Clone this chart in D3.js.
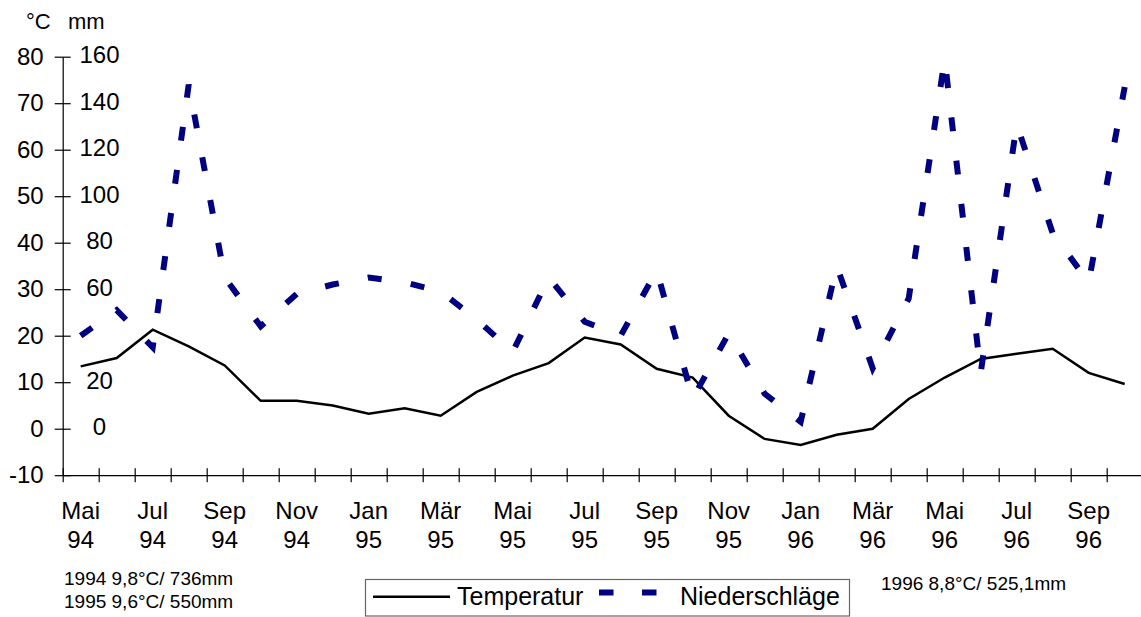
<!DOCTYPE html>
<html>
<head>
<meta charset="utf-8">
<script src="https://cdn.jsdelivr.net/npm/d3@7"></script>
<style>
  body { margin: 0; background: #fff; }
  text { font-family: Arial, "Liberation Sans", sans-serif; fill: #000; }
</style>
</head>
<body>
<div id="chart"></div>
<script>
// months shown on the x axis (every second one gets a label)
var months = ['Mai 94', 'Jun 94', 'Jul 94', 'Aug 94', 'Sep 94', 'Okt 94', 'Nov 94', 'Dez 94',
  'Jan 95', 'Feb 95', 'Mär 95', 'Apr 95', 'Mai 95', 'Jun 95', 'Jul 95', 'Aug 95', 'Sep 95',
  'Okt 95', 'Nov 95', 'Dez 95', 'Jan 96', 'Feb 96', 'Mär 96', 'Apr 96', 'Mai 96', 'Jun 96',
  'Jul 96', 'Aug 96', 'Sep 96', 'Okt 96'];

// monthly mean temperature (°C)
var temperature = [13.4, 15.2, 21.3, 17.7, 13.6, 6.0, 6.0, 5.0, 3.2, 4.4, 2.8, 7.9, 11.4, 14.1,
  19.6, 18.1, 12.9, 11.0, 2.8, -2.2, -3.5, -1.3, 0.0, 6.4, 11.0, 15.0, 16.1, 17.2, 12.0, 9.6];

// monthly precipitation (mm)
var precipitation = [40, 51, 35, 148, 65, 44, 58, 62, 65, 63, 59, 47, 33, 65, 46, 40, 68, 13,
  41, 15, 3, 70, 26, 56, 159, 24, 131, 84, 63, 147];

var tempTicks = [-10, 0, 10, 20, 30, 40, 50, 60, 70, 80];
var mmTicks = [0, 20, 60, 80, 100, 120, 140, 160];
var yearNotesLeft = ['1994 9,8°C/ 736mm', '1995 9,6°C/ 550mm'];
var yearNoteRight = '1996 8,8°C/ 525,1mm';
var legendLabels = ['Temperatur', 'Niederschläge'];

var svgWidth = 1141;
var svgHeight = 617;

var svg = d3.select('#chart')
  .append('svg')
  .attr('width', svgWidth)
  .attr('height', svgHeight);

// scales
var xIndex = d3.scaleLinear().domain([0, months.length]).range([62.7, 1142.7]);
var xMid = function (i) { return xIndex(i + 0.5); };
var yTemp = d3.scaleLinear().domain([-10, 80]).range([475.2, 56.7]);
var yMm = d3.scaleLinear().domain([-20, 160]).range([475.2, 56.7]);

// y axis (°C)
var yAxis = svg.append('g')
  .attr('transform', 'translate(62.7,0)')
  .call(d3.axisLeft(yTemp).tickValues(tempTicks).tickSizeInner(8).tickSizeOuter(0).tickPadding(11)
    .tickFormat(d => String(d)));
yAxis.select('.domain').attr('stroke', '#000').attr('stroke-width', 1.2);
yAxis.selectAll('.tick line').attr('x1', 8).attr('stroke', '#000').attr('stroke-width', 1.2);
yAxis.selectAll('.tick text')
  .style('font-size', '24px')
  .style('font-family', 'Arial, "Liberation Sans", sans-serif');

// x axis with crossing ticks at month boundaries
var xAxis = svg.append('g')
  .attr('transform', 'translate(0,' + yTemp(-10) + ')')
  .call(d3.axisBottom(xIndex).tickValues(d3.range(0, months.length)).tickSizeInner(7).tickSizeOuter(0).tickFormat(''));
xAxis.select('.domain').attr('stroke', '#000').attr('stroke-width', 1.2);
xAxis.selectAll('.tick line').attr('y1', -7).attr('stroke', '#000').attr('stroke-width', 1.2);

// month labels, two lines, every second month
var labelGroup = svg.append('g');
months.forEach(function (m, i) {
  if (i % 2 !== 0) return;
  var parts = m.split(' ');
  var t = labelGroup.append('text')
    .attr('x', xMid(i))
    .attr('text-anchor', 'middle')
    .style('font-size', '24px');
  t.append('tspan').attr('x', xMid(i)).attr('y', 519).text(parts[0]);
  t.append('tspan').attr('x', xMid(i)).attr('y', 548).text(parts[1]);
});

// mm labels
svg.append('g').selectAll('text')
  .data(mmTicks)
  .enter()
  .append('text')
  .attr('x', 99.5)
  .attr('y', d => yMm(d) - 2)
  .attr('dy', '0.35em')
  .attr('text-anchor', 'middle')
  .style('font-size', '24px')
  .text(d => d);

// unit labels
svg.append('text').attr('x', 26).attr('y', 29).style('font-size', '22px').text('°C');
svg.append('text').attr('x', 68).attr('y', 29).style('font-size', '22px').text('mm');

// temperature line
var tempLine = d3.line()
  .x((d, i) => xMid(i))
  .y(d => yTemp(d));

svg.append('path')
  .datum(temperature)
  .attr('fill', 'none')
  .attr('stroke', '#000')
  .attr('stroke-width', 2.5)
  .attr('stroke-linejoin', 'miter')
  .attr('d', tempLine);

// precipitation line (dashed)
var mmLine = d3.line()
  .x((d, i) => xMid(i))
  .y(d => yMm(d));

svg.append('path')
  .datum(precipitation)
  .attr('fill', 'none')
  .attr('stroke', '#000080')
  .attr('stroke-width', 6)
  .attr('stroke-dasharray', '14,29.5')
  .attr('stroke-linejoin', 'miter')
  .attr('d', mmLine);

// yearly notes
svg.append('g').selectAll('text')
  .data(yearNotesLeft)
  .enter()
  .append('text')
  .attr('x', 64)
  .attr('y', (d, i) => 585 + i * 22.5)
  .style('font-size', '19px')
  .text(d => d);

svg.append('text')
  .attr('x', 881)
  .attr('y', 590)
  .style('font-size', '19px')
  .text(yearNoteRight);

// legend
var legend = svg.append('g');
legend.append('rect')
  .attr('x', 365.5).attr('y', 579.5)
  .attr('width', 484).attr('height', 36.5)
  .attr('fill', '#fff')
  .attr('stroke', '#666')
  .attr('stroke-width', 1.2);
legend.append('line')
  .attr('x1', 373).attr('x2', 450)
  .attr('y1', 596.7).attr('y2', 596.7)
  .attr('stroke', '#000').attr('stroke-width', 2.5);
legend.append('text').attr('x', 457).attr('y', 605).style('font-size', '25px').text(legendLabels[0]);
legend.append('line')
  .attr('x1', 599).attr('x2', 658)
  .attr('y1', 592.6).attr('y2', 592.6)
  .attr('stroke', '#000080').attr('stroke-width', 6)
  .attr('stroke-dasharray', '14.5,28.5');
legend.append('text').attr('x', 680).attr('y', 605).style('font-size', '25px').text(legendLabels[1]);
</script>
</body>
</html>
